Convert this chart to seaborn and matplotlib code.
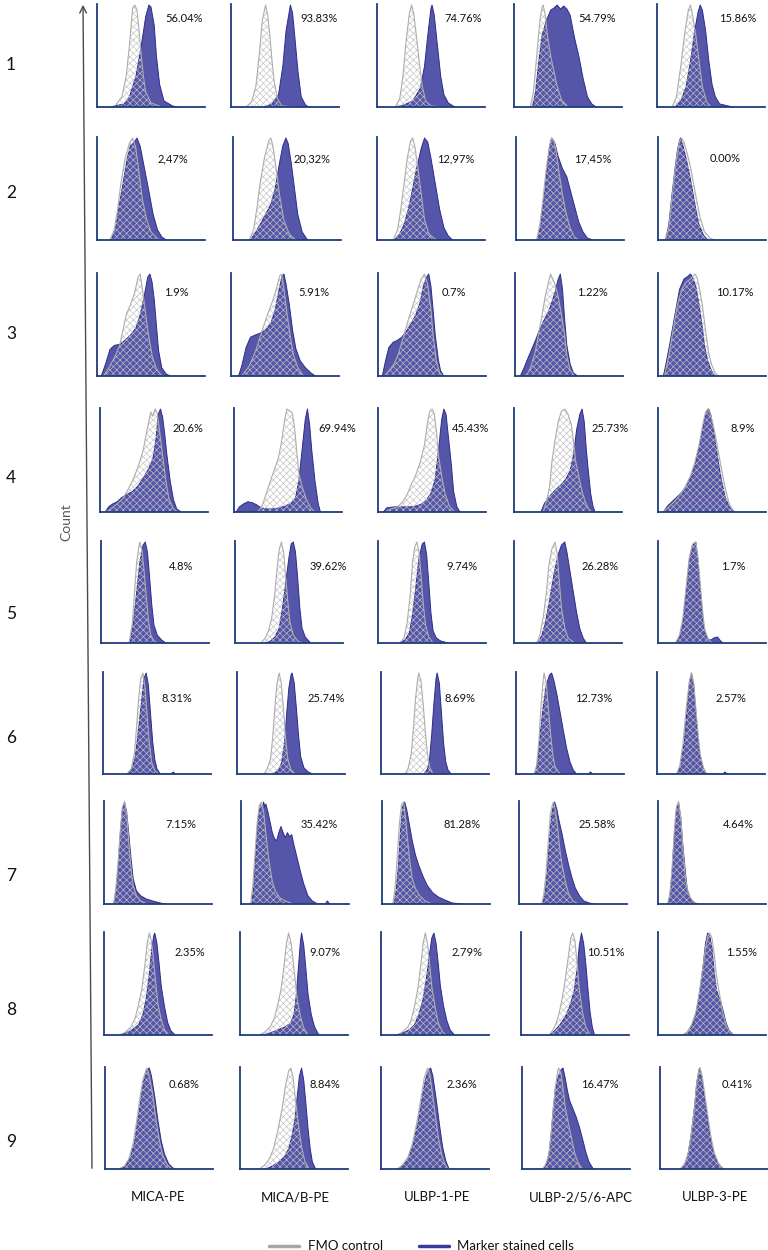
import matplotlib
matplotlib.use("Agg")
import matplotlib.pyplot as plt
import seaborn as sns
from matplotlib.lines import Line2D
from matplotlib.patches import FancyArrowPatch

# ---------------- data ----------------
MARKERS = ["MICA-PE", "MICA/B-PE", "ULBP-1-PE", "ULBP-2/5/6-APC", "ULBP-3-PE"]
SAMPLES = ["1", "2", "3", "4", "5", "6", "7", "8", "9"]
PERCENTS = [
    ["56.04%", "93.83%", "74.76%", "54.79%", "15.86%"],
    ["2,47%", "20,32%", "12,97%", "17,45%", "0.00%"],
    ["1.9%", "5.91%", "0.7%", "1.22%", "10.17%"],
    ["20.6%", "69.94%", "45.43%", "25.73%", "8.9%"],
    ["4.8%", "39.62%", "9.74%", "26.28%", "1.7%"],
    ["8.31%", "25.74%", "8.69%", "12.73%", "2.57%"],
    ["7.15%", "35.42%", "81.28%", "25.58%", "4.64%"],
    ["2.35%", "9.07%", "2.79%", "10.51%", "1.55%"],
    ["0.68%", "8.84%", "2.36%", "16.47%", "0.41%"],
]
LEGEND = ["FMO control", "Marker stained cells"]
AXIS_LABEL = "Count"

# histogram outlines: (relative intensity, relative count)
FMO_1 = [
    [(0.16,0),(0.23,0.1),(0.27,0.3),(0.30,0.6),(0.32,0.85),(0.33,0.97),(0.35,1.0),(0.37,0.95),(0.39,0.75),(0.41,0.5),(0.43,0.3),(0.45,0.15),(0.50,0.04),(0.60,0)],
    [(0.14,0),(0.19,0.05),(0.23,0.2),(0.26,0.5),(0.29,0.85),(0.32,1.0),(0.34,0.9),(0.36,0.7),(0.38,0.45),(0.40,0.25),(0.43,0.08),(0.47,0.01),(0.60,0)],
    [(0.17,0),(0.21,0.08),(0.24,0.3),(0.27,0.65),(0.30,0.92),(0.32,1.0),(0.34,0.92),(0.37,0.65),(0.39,0.45),(0.42,0.2),(0.45,0.06),(0.50,0.01),(0.60,0)],
    [(0.15,0),(0.18,0.15),(0.21,0.5),(0.24,0.85),(0.26,0.98),(0.27,1.0),(0.29,0.9),(0.31,0.7),(0.34,0.5),(0.37,0.35),(0.40,0.2),(0.44,0.07),(0.50,0)],
    [(0.14,0),(0.18,0.1),(0.22,0.4),(0.26,0.75),(0.29,0.95),(0.31,1.0),(0.33,0.9),(0.36,0.7),(0.39,0.45),(0.42,0.2),(0.46,0.05),(0.50,0)],
]
STAIN_1 = [
    [(0.12,0),(0.25,0.03),(0.30,0.1),(0.36,0.3),(0.41,0.6),(0.45,0.88),(0.48,1.0),(0.50,0.98),(0.53,0.8),(0.55,0.5),(0.58,0.22),(0.62,0.06),(0.70,0.01),(0.75,0)],
    [(0.30,0),(0.38,0.03),(0.44,0.12),(0.48,0.4),(0.51,0.75),(0.55,1.0),(0.57,0.92),(0.59,0.7),(0.62,0.35),(0.65,0.1),(0.69,0.02),(0.72,0)],
    [(0.17,0),(0.25,0.02),(0.33,0.06),(0.40,0.18),(0.44,0.4),(0.47,0.7),(0.50,0.97),(0.51,1.0),(0.53,0.9),(0.56,0.6),(0.59,0.3),(0.62,0.12),(0.66,0.04),(0.72,0)],
    [(0.17,0),(0.20,0.15),(0.23,0.45),(0.26,0.7),(0.30,0.85),(0.34,0.95),(0.37,0.97),(0.40,1.0),(0.43,0.96),(0.46,0.99),(0.49,0.96),(0.52,0.9),(0.56,0.68),(0.60,0.5),(0.64,0.28),(0.68,0.1),(0.72,0.03),(0.76,0)],
    [(0.17,0),(0.22,0.06),(0.27,0.2),(0.31,0.45),(0.35,0.75),(0.38,0.93),(0.40,1.0),(0.42,0.95),(0.45,0.75),(0.48,0.45),(0.51,0.22),(0.54,0.1),(0.58,0.03),(0.66,0.01),(0.70,0)],
]
FMO_2 = [
    [(0.12,0),(0.16,0.1),(0.19,0.3),(0.22,0.55),(0.26,0.8),(0.30,0.95),(0.33,1.0),(0.36,0.9),(0.39,0.65),(0.42,0.4),(0.46,0.2),(0.50,0.08),(0.56,0.01),(0.60,0)],
    [(0.15,0),(0.19,0.1),(0.22,0.3),(0.25,0.55),(0.29,0.8),(0.33,0.97),(0.35,1.0),(0.37,0.92),(0.40,0.7),(0.43,0.45),(0.47,0.2),(0.52,0.06),(0.58,0)],
    [(0.15,0),(0.19,0.1),(0.22,0.3),(0.25,0.55),(0.28,0.8),(0.31,0.97),(0.33,1.0),(0.35,0.92),(0.38,0.7),(0.41,0.45),(0.44,0.2),(0.48,0.06),(0.55,0)],
    [(0.19,0),(0.22,0.15),(0.25,0.4),(0.28,0.7),(0.31,0.92),(0.33,1.0),(0.35,0.98),(0.37,0.88),(0.40,0.65),(0.43,0.45),(0.46,0.28),(0.50,0.12),(0.54,0.03),(0.58,0)],
    [(0.07,0),(0.10,0.12),(0.13,0.42),(0.16,0.7),(0.18,0.86),(0.20,0.97),(0.22,1.0),(0.24,0.96),(0.27,0.85),(0.30,0.72),(0.33,0.55),(0.36,0.38),(0.39,0.22),(0.43,0.08),(0.48,0.02),(0.52,0)],
]
STAIN_2 = [
    [(0.13,0),(0.17,0.1),(0.20,0.3),(0.24,0.55),(0.28,0.8),(0.31,0.93),(0.34,0.95),(0.37,1.0),(0.40,0.92),(0.44,0.7),(0.48,0.48),(0.52,0.25),(0.56,0.1),(0.60,0.03),(0.64,0)],
    [(0.16,0),(0.20,0.06),(0.25,0.15),(0.30,0.25),(0.35,0.35),(0.39,0.5),(0.43,0.75),(0.46,0.92),(0.49,1.0),(0.51,0.95),(0.54,0.75),(0.57,0.5),(0.60,0.25),(0.64,0.08),(0.69,0)],
    [(0.16,0),(0.21,0.06),(0.25,0.15),(0.29,0.3),(0.33,0.5),(0.37,0.72),(0.41,0.9),(0.44,1.0),(0.47,0.96),(0.50,0.8),(0.54,0.55),(0.58,0.3),(0.62,0.12),(0.66,0.04),(0.70,0)],
    [(0.20,0),(0.23,0.15),(0.26,0.42),(0.29,0.72),(0.31,0.92),(0.33,1.0),(0.36,0.95),(0.39,0.82),(0.43,0.7),(0.47,0.62),(0.50,0.5),(0.54,0.34),(0.58,0.18),(0.62,0.08),(0.66,0.02),(0.71,0)],
    [(0.07,0),(0.10,0.15),(0.13,0.45),(0.16,0.72),(0.18,0.88),(0.20,0.98),(0.21,1.0),(0.23,0.93),(0.26,0.8),(0.29,0.65),(0.32,0.48),(0.35,0.3),(0.38,0.15),(0.42,0.05),(0.46,0)],
]
FMO_3 = [
    [(0.06,0),(0.11,0.08),(0.17,0.2),(0.21,0.3),(0.24,0.45),(0.27,0.6),(0.31,0.7),(0.35,0.82),(0.38,0.97),(0.40,1.0),(0.43,0.78),(0.47,0.45),(0.51,0.2),(0.55,0.07),(0.60,0)],
    [(0.10,0),(0.17,0.1),(0.23,0.25),(0.28,0.42),(0.33,0.58),(0.38,0.72),(0.42,0.85),(0.45,0.98),(0.47,1.0),(0.49,0.85),(0.52,0.6),(0.55,0.38),(0.58,0.2),(0.62,0.08),(0.67,0)],
    [(0.06,0),(0.10,0.05),(0.15,0.12),(0.19,0.22),(0.24,0.4),(0.28,0.55),(0.32,0.68),(0.36,0.82),(0.40,0.95),(0.43,1.0),(0.46,0.9),(0.49,0.65),(0.51,0.4),(0.54,0.15),(0.57,0.03),(0.60,0)],
    [(0.09,0),(0.12,0.03),(0.15,0.1),(0.19,0.25),(0.22,0.42),(0.25,0.6),(0.28,0.78),(0.31,0.92),(0.33,1.0),(0.35,0.95),(0.37,0.9),(0.40,0.78),(0.43,0.6),(0.46,0.4),(0.48,0.2),(0.51,0.06),(0.55,0)],
    [(0.06,0),(0.10,0.2),(0.14,0.45),(0.18,0.7),(0.22,0.85),(0.26,0.92),(0.30,0.95),(0.34,1.0),(0.36,0.97),(0.38,0.88),(0.41,0.7),(0.44,0.45),(0.47,0.22),(0.50,0.1),(0.53,0.03),(0.56,0)],
]
STAIN_3 = [
    [(0.04,0),(0.08,0.12),(0.12,0.26),(0.16,0.3),(0.21,0.31),(0.26,0.35),(0.31,0.4),(0.36,0.47),(0.40,0.6),(0.44,0.8),(0.47,0.97),(0.49,1.0),(0.51,0.92),(0.53,0.75),(0.55,0.5),(0.57,0.25),(0.60,0.08),(0.64,0.02),(0.68,0)],
    [(0.07,0),(0.10,0.1),(0.14,0.28),(0.18,0.38),(0.22,0.4),(0.27,0.42),(0.32,0.45),(0.37,0.52),(0.41,0.65),(0.44,0.82),(0.47,0.97),(0.49,1.0),(0.51,0.9),(0.54,0.7),(0.57,0.45),(0.60,0.27),(0.64,0.15),(0.69,0.08),(0.74,0.03),(0.78,0)],
    [(0.04,0),(0.07,0.15),(0.10,0.28),(0.14,0.33),(0.18,0.35),(0.22,0.38),(0.27,0.45),(0.31,0.52),(0.35,0.6),(0.39,0.72),(0.42,0.88),(0.45,0.97),(0.47,1.0),(0.49,0.88),(0.51,0.65),(0.53,0.4),(0.56,0.15),(0.58,0.05),(0.61,0)],
    [(0.05,0),(0.08,0.07),(0.11,0.15),(0.15,0.25),(0.19,0.35),(0.23,0.46),(0.27,0.55),(0.31,0.63),(0.34,0.72),(0.37,0.82),(0.40,0.95),(0.42,1.0),(0.44,0.85),(0.46,0.55),(0.48,0.3),(0.51,0.12),(0.54,0.03),(0.58,0)],
    [(0.05,0),(0.08,0.15),(0.11,0.32),(0.14,0.5),(0.17,0.68),(0.20,0.85),(0.24,0.95),(0.28,0.98),(0.30,1.0),(0.32,0.97),(0.35,0.88),(0.38,0.7),(0.41,0.48),(0.43,0.3),(0.46,0.15),(0.49,0.06),(0.53,0)],
]
FMO_4 = [
    [(0.06,0),(0.10,0.03),(0.16,0.08),(0.21,0.13),(0.25,0.2),(0.30,0.3),(0.35,0.43),(0.40,0.6),(0.44,0.82),(0.47,0.97),(0.49,0.93),(0.51,1.0),(0.53,0.96),(0.55,0.8),(0.58,0.55),(0.61,0.3),(0.64,0.12),(0.68,0.03),(0.72,0)],
    [(0.22,0),(0.26,0.06),(0.29,0.15),(0.33,0.28),(0.37,0.4),(0.41,0.52),(0.44,0.68),(0.47,0.9),(0.49,1.0),(0.52,0.98),(0.54,0.96),(0.56,0.82),(0.58,0.6),(0.60,0.38),(0.63,0.25),(0.67,0.12),(0.71,0.04),(0.75,0)],
    [(0.06,0),(0.12,0.03),(0.18,0.05),(0.23,0.1),(0.27,0.17),(0.31,0.27),(0.35,0.36),(0.39,0.48),(0.43,0.65),(0.46,0.88),(0.48,0.98),(0.50,1.0),(0.52,0.96),(0.54,0.8),(0.56,0.55),(0.59,0.35),(0.62,0.18),(0.66,0.06),(0.71,0)],
    [(0.27,0),(0.30,0.1),(0.33,0.25),(0.35,0.48),(0.38,0.7),(0.41,0.88),(0.44,0.98),(0.47,1.0),(0.50,0.95),(0.53,0.85),(0.55,0.7),(0.57,0.5),(0.60,0.35),(0.63,0.2),(0.66,0.1),(0.69,0.03),(0.72,0)],
    [(0.05,0),(0.10,0.05),(0.15,0.1),(0.20,0.16),(0.25,0.24),(0.30,0.35),(0.34,0.48),(0.38,0.65),(0.42,0.88),(0.44,0.97),(0.46,1.0),(0.48,0.97),(0.51,0.85),(0.54,0.7),(0.57,0.52),(0.60,0.35),(0.63,0.2),(0.66,0.08),(0.70,0)],
]
STAIN_4 = [
    [(0.05,0),(0.08,0.05),(0.12,0.08),(0.16,0.1),(0.20,0.14),(0.25,0.17),(0.30,0.2),(0.35,0.25),(0.40,0.33),(0.45,0.42),(0.49,0.52),(0.52,0.72),(0.54,0.95),(0.56,1.0),(0.58,0.92),(0.60,0.75),(0.62,0.55),(0.65,0.3),(0.68,0.12),(0.71,0.03),(0.75,0)],
    [(0.02,0),(0.05,0.05),(0.09,0.08),(0.13,0.1),(0.17,0.09),(0.21,0.07),(0.25,0.04),(0.30,0.03),(0.36,0.03),(0.42,0.04),(0.48,0.06),(0.53,0.09),(0.57,0.14),(0.60,0.3),(0.63,0.6),(0.66,0.9),(0.68,1.0),(0.70,0.85),(0.72,0.6),(0.75,0.3),(0.78,0.08),(0.80,0)],
    [(0.05,0),(0.08,0.04),(0.15,0.05),(0.22,0.05),(0.30,0.05),(0.36,0.06),(0.41,0.08),(0.45,0.12),(0.49,0.18),(0.53,0.32),(0.56,0.6),(0.59,0.9),(0.61,1.0),(0.63,0.95),(0.65,0.75),(0.68,0.45),(0.70,0.2),(0.73,0.05),(0.76,0)],
    [(0.25,0),(0.28,0.08),(0.32,0.14),(0.36,0.19),(0.40,0.23),(0.44,0.27),(0.48,0.32),(0.52,0.4),(0.55,0.55),(0.58,0.8),(0.61,0.95),(0.63,1.0),(0.65,0.88),(0.67,0.6),(0.69,0.38),(0.71,0.18),(0.73,0.06),(0.75,0)],
    [(0.05,0),(0.09,0.06),(0.13,0.1),(0.17,0.14),(0.21,0.18),(0.26,0.25),(0.30,0.33),(0.34,0.45),(0.38,0.62),(0.42,0.85),(0.45,0.97),(0.47,1.0),(0.49,0.94),(0.52,0.75),(0.55,0.55),(0.58,0.35),(0.62,0.15),(0.66,0.05),(0.71,0)],
]
FMO_5 = [
    [(0.26,0),(0.29,0.2),(0.31,0.5),(0.33,0.8),(0.35,0.95),(0.36,1.0),(0.38,0.92),(0.40,0.7),(0.42,0.45),(0.44,0.22),(0.46,0.08),(0.49,0.02),(0.52,0)],
    [(0.24,0),(0.28,0.05),(0.31,0.12),(0.34,0.25),(0.37,0.5),(0.39,0.75),(0.41,0.93),(0.43,1.0),(0.45,0.9),(0.47,0.65),(0.49,0.4),(0.51,0.2),(0.54,0.08),(0.58,0.02),(0.62,0)],
    [(0.20,0),(0.24,0.05),(0.27,0.2),(0.30,0.5),(0.32,0.8),(0.34,0.95),(0.36,1.0),(0.38,0.9),(0.40,0.65),(0.42,0.38),(0.44,0.18),(0.47,0.06),(0.51,0)],
    [(0.21,0),(0.24,0.08),(0.27,0.25),(0.30,0.5),(0.32,0.75),(0.35,0.93),(0.38,1.0),(0.40,0.88),(0.42,0.6),(0.44,0.35),(0.47,0.15),(0.50,0.05),(0.56,0)],
    [(0.16,0),(0.20,0.08),(0.23,0.25),(0.26,0.55),(0.29,0.85),(0.32,0.98),(0.35,1.0),(0.37,0.85),(0.39,0.6),(0.41,0.35),(0.43,0.15),(0.46,0.05),(0.50,0)],
]
STAIN_5 = [
    [(0.27,0),(0.30,0.2),(0.33,0.5),(0.36,0.8),(0.39,0.97),(0.41,1.0),(0.43,0.9),(0.45,0.65),(0.47,0.38),(0.49,0.18),(0.52,0.08),(0.56,0.03),(0.60,0)],
    [(0.28,0),(0.33,0.02),(0.37,0.06),(0.41,0.15),(0.44,0.35),(0.47,0.6),(0.50,0.85),(0.52,0.98),(0.54,1.0),(0.56,0.9),(0.58,0.65),(0.60,0.35),(0.62,0.15),(0.65,0.06),(0.70,0)],
    [(0.20,0),(0.25,0.03),(0.29,0.1),(0.32,0.28),(0.35,0.55),(0.38,0.85),(0.41,0.98),(0.43,1.0),(0.45,0.88),(0.47,0.6),(0.49,0.3),(0.51,0.12),(0.54,0.05),(0.58,0.02),(0.65,0)],
    [(0.22,0),(0.26,0.08),(0.29,0.2),(0.33,0.42),(0.37,0.68),(0.41,0.88),(0.44,0.97),(0.47,1.0),(0.49,0.9),(0.52,0.7),(0.55,0.5),(0.58,0.3),(0.61,0.14),(0.64,0.05),(0.67,0)],
    [(0.17,0),(0.20,0.06),(0.23,0.2),(0.26,0.5),(0.29,0.82),(0.32,0.97),(0.35,1.0),(0.37,0.82),(0.39,0.55),(0.41,0.3),(0.43,0.12),(0.46,0.04),(0.49,0.03),(0.52,0.05),(0.55,0.06),(0.58,0.02),(0.60,0)],
]
FMO_6 = [
    [(0.22,0),(0.26,0.05),(0.29,0.2),(0.31,0.45),(0.33,0.75),(0.35,0.95),(0.37,1.0),(0.39,0.85),(0.41,0.55),(0.43,0.3),(0.45,0.12),(0.48,0.03),(0.52,0)],
    [(0.25,0),(0.28,0.05),(0.31,0.15),(0.33,0.35),(0.35,0.65),(0.37,0.9),(0.39,1.0),(0.41,0.9),(0.43,0.65),(0.45,0.35),(0.47,0.15),(0.50,0.04),(0.54,0)],
    [(0.22,0),(0.25,0.05),(0.28,0.2),(0.30,0.45),(0.32,0.75),(0.34,0.95),(0.35,1.0),(0.37,0.92),(0.39,0.7),(0.41,0.42),(0.43,0.2),(0.45,0.07),(0.48,0)],
    [(0.17,0),(0.19,0.08),(0.21,0.3),(0.23,0.65),(0.25,0.92),(0.26,1.0),(0.28,0.9),(0.30,0.65),(0.32,0.4),(0.34,0.2),(0.36,0.08),(0.39,0.02),(0.42,0)],
    [(0.18,0),(0.21,0.08),(0.24,0.3),(0.27,0.65),(0.30,0.92),(0.32,1.0),(0.34,0.9),(0.36,0.65),(0.38,0.4),(0.40,0.2),(0.43,0.06),(0.46,0)],
]
STAIN_6 = [
    [(0.23,0),(0.27,0.05),(0.30,0.18),(0.33,0.45),(0.36,0.75),(0.38,0.95),(0.40,1.0),(0.42,0.88),(0.44,0.6),(0.46,0.32),(0.48,0.14),(0.50,0.05),(0.53,0),(0.63,0),(0.65,0.02),(0.67,0)],
    [(0.33,0),(0.38,0.03),(0.41,0.1),(0.44,0.3),(0.46,0.6),(0.48,0.85),(0.50,0.98),(0.51,1.0),(0.53,0.9),(0.55,0.65),(0.57,0.38),(0.59,0.17),(0.62,0.06),(0.66,0.02),(0.70,0)],
    [(0.40,0),(0.43,0.05),(0.45,0.15),(0.47,0.4),(0.49,0.7),(0.51,0.95),(0.52,1.0),(0.54,0.9),(0.56,0.6),(0.58,0.3),(0.60,0.12),(0.62,0.04),(0.65,0)],
    [(0.17,0),(0.20,0.1),(0.22,0.35),(0.25,0.65),(0.28,0.88),(0.31,0.98),(0.33,1.0),(0.35,0.93),(0.38,0.78),(0.41,0.6),(0.44,0.42),(0.47,0.25),(0.50,0.12),(0.53,0.04),(0.56,0),(0.67,0),(0.69,0.02),(0.71,0)],
    [(0.19,0),(0.22,0.08),(0.25,0.3),(0.28,0.65),(0.30,0.9),(0.32,1.0),(0.34,0.88),(0.36,0.6),(0.38,0.35),(0.40,0.16),(0.43,0.05),(0.46,0),(0.61,0),(0.63,0.02),(0.65,0)],
]
FMO_7 = [
    [(0.09,0),(0.11,0.15),(0.13,0.4),(0.15,0.7),(0.17,0.95),(0.19,1.0),(0.21,0.88),(0.23,0.6),(0.25,0.35),(0.27,0.18),(0.30,0.08),(0.34,0.03),(0.40,0)],
    [(0.09,0),(0.11,0.2),(0.13,0.5),(0.15,0.8),(0.17,0.97),(0.19,1.0),(0.21,0.9),(0.23,0.7),(0.25,0.5),(0.27,0.35),(0.29,0.22),(0.32,0.12),(0.36,0.06),(0.41,0.03),(0.48,0)],
    [(0.10,0),(0.12,0.15),(0.14,0.45),(0.16,0.78),(0.18,0.97),(0.20,1.0),(0.22,0.82),(0.24,0.6),(0.26,0.4),(0.28,0.25),(0.31,0.15),(0.35,0.08),(0.40,0.03),(0.46,0)],
    [(0.21,0),(0.23,0.1),(0.25,0.3),(0.27,0.6),(0.29,0.88),(0.31,0.98),(0.32,1.0),(0.34,0.9),(0.36,0.72),(0.38,0.52),(0.40,0.38),(0.43,0.22),(0.46,0.1),(0.50,0.03),(0.55,0)],
    [(0.09,0),(0.11,0.1),(0.13,0.35),(0.15,0.7),(0.17,0.95),(0.19,1.0),(0.21,0.85),(0.23,0.55),(0.25,0.3),(0.27,0.15),(0.30,0.06),(0.34,0.01),(0.38,0)],
]
STAIN_7 = [
    [(0.09,0),(0.11,0.12),(0.13,0.35),(0.15,0.68),(0.17,0.93),(0.19,1.0),(0.21,0.9),(0.23,0.68),(0.25,0.45),(0.27,0.25),(0.30,0.13),(0.34,0.08),(0.39,0.05),(0.45,0.03),(0.52,0.01),(0.58,0)],
    [(0.10,0),(0.12,0.2),(0.14,0.55),(0.16,0.85),(0.18,0.97),(0.19,0.93),(0.21,1.0),(0.22,0.95),(0.23,0.98),(0.25,0.9),(0.27,0.8),(0.29,0.7),(0.31,0.64),(0.33,0.62),(0.35,0.7),(0.37,0.76),(0.39,0.7),(0.41,0.65),(0.43,0.7),(0.45,0.66),(0.47,0.68),(0.49,0.58),(0.52,0.45),(0.55,0.32),(0.58,0.2),(0.62,0.08),(0.66,0.03),(0.71,0),(0.78,0),(0.80,0.03),(0.82,0)],
    [(0.11,0),(0.13,0.12),(0.15,0.35),(0.17,0.7),(0.19,0.95),(0.21,1.0),(0.23,0.92),(0.25,0.8),(0.28,0.62),(0.31,0.48),(0.34,0.38),(0.38,0.27),(0.42,0.18),(0.47,0.11),(0.52,0.07),(0.58,0.04),(0.65,0.01),(0.75,0)],
    [(0.22,0),(0.24,0.1),(0.26,0.3),(0.28,0.6),(0.30,0.85),(0.32,0.98),(0.33,1.0),(0.35,0.93),(0.37,0.82),(0.40,0.68),(0.43,0.52),(0.46,0.38),(0.49,0.26),(0.52,0.16),(0.56,0.08),(0.60,0.03),(0.65,0.01),(0.70,0)],
    [(0.09,0),(0.11,0.08),(0.13,0.3),(0.15,0.65),(0.17,0.92),(0.19,1.0),(0.21,0.85),(0.23,0.58),(0.25,0.35),(0.27,0.15),(0.30,0.05),(0.34,0.01),(0.38,0)],
]
FMO_8 = [
    [(0.15,0),(0.20,0.03),(0.25,0.08),(0.29,0.17),(0.32,0.3),(0.35,0.45),(0.38,0.7),(0.40,0.9),(0.42,1.0),(0.44,0.92),(0.46,0.72),(0.48,0.5),(0.50,0.3),(0.53,0.15),(0.56,0.05),(0.60,0)],
    [(0.18,0),(0.23,0.03),(0.28,0.08),(0.32,0.17),(0.35,0.3),(0.38,0.45),(0.41,0.7),(0.43,0.9),(0.45,1.0),(0.47,0.92),(0.49,0.75),(0.51,0.55),(0.53,0.35),(0.56,0.18),(0.59,0.07),(0.63,0)],
    [(0.15,0),(0.20,0.03),(0.25,0.08),(0.28,0.15),(0.31,0.28),(0.34,0.45),(0.37,0.7),(0.39,0.9),(0.41,1.0),(0.43,0.9),(0.45,0.7),(0.47,0.48),(0.50,0.28),(0.53,0.12),(0.57,0.03),(0.60,0)],
    [(0.26,0),(0.29,0.04),(0.32,0.1),(0.35,0.2),(0.38,0.35),(0.41,0.55),(0.44,0.78),(0.46,0.95),(0.48,1.0),(0.50,0.92),(0.52,0.7),(0.54,0.45),(0.57,0.22),(0.60,0.08),(0.64,0)],
    [(0.23,0),(0.27,0.03),(0.31,0.1),(0.35,0.22),(0.38,0.4),(0.41,0.62),(0.44,0.85),(0.46,0.97),(0.48,1.0),(0.50,0.95),(0.52,0.8),(0.54,0.6),(0.57,0.4),(0.60,0.22),(0.63,0.1),(0.66,0.03),(0.70,0)],
]
STAIN_8 = [
    [(0.14,0),(0.20,0.02),(0.26,0.05),(0.32,0.1),(0.36,0.2),(0.39,0.35),(0.42,0.6),(0.44,0.82),(0.46,0.97),(0.47,1.0),(0.49,0.9),(0.51,0.7),(0.53,0.48),(0.56,0.28),(0.59,0.12),(0.62,0.04),(0.66,0)],
    [(0.20,0),(0.28,0.02),(0.35,0.05),(0.42,0.08),(0.47,0.12),(0.50,0.2),(0.52,0.38),(0.54,0.65),(0.56,0.92),(0.57,1.0),(0.59,0.88),(0.61,0.65),(0.63,0.4),(0.66,0.2),(0.69,0.08),(0.73,0)],
    [(0.14,0),(0.20,0.02),(0.26,0.05),(0.31,0.1),(0.35,0.2),(0.39,0.35),(0.42,0.55),(0.45,0.8),(0.47,0.95),(0.49,1.0),(0.51,0.9),(0.53,0.7),(0.55,0.48),(0.58,0.28),(0.61,0.14),(0.64,0.05),(0.68,0)],
    [(0.27,0),(0.31,0.04),(0.36,0.1),(0.41,0.18),(0.45,0.28),(0.49,0.42),(0.52,0.65),(0.54,0.88),(0.56,1.0),(0.58,0.9),(0.60,0.7),(0.62,0.45),(0.64,0.22),(0.66,0.08),(0.68,0)],
    [(0.23,0),(0.28,0.03),(0.32,0.1),(0.36,0.25),(0.39,0.45),(0.42,0.7),(0.44,0.9),(0.46,1.0),(0.48,0.97),(0.50,0.85),(0.52,0.62),(0.54,0.45),(0.56,0.38),(0.58,0.33),(0.60,0.25),(0.63,0.12),(0.66,0.04),(0.70,0)],
]
FMO_9 = [
    [(0.13,0),(0.18,0.03),(0.22,0.1),(0.26,0.25),(0.29,0.45),(0.32,0.68),(0.35,0.88),(0.38,0.98),(0.39,1.0),(0.41,0.92),(0.44,0.75),(0.47,0.5),(0.50,0.3),(0.53,0.15),(0.57,0.05),(0.62,0)],
    [(0.18,0),(0.23,0.04),(0.27,0.1),(0.31,0.2),(0.35,0.38),(0.39,0.6),(0.42,0.82),(0.45,0.97),(0.47,1.0),(0.49,0.92),(0.51,0.72),(0.54,0.45),(0.57,0.22),(0.60,0.08),(0.64,0)],
    [(0.15,0),(0.20,0.04),(0.25,0.12),(0.29,0.25),(0.33,0.45),(0.37,0.7),(0.40,0.9),(0.43,1.0),(0.45,0.95),(0.47,0.8),(0.50,0.55),(0.53,0.32),(0.56,0.15),(0.59,0.05),(0.62,0)],
    [(0.19,0),(0.22,0.05),(0.25,0.15),(0.27,0.35),(0.29,0.6),(0.31,0.82),(0.33,0.97),(0.34,1.0),(0.36,0.95),(0.38,0.8),(0.40,0.62),(0.43,0.45),(0.46,0.3),(0.49,0.15),(0.52,0.06),(0.56,0)],
    [(0.19,0),(0.23,0.05),(0.26,0.15),(0.29,0.35),(0.32,0.62),(0.34,0.85),(0.36,0.98),(0.37,1.0),(0.39,0.92),(0.41,0.78),(0.44,0.55),(0.47,0.33),(0.50,0.17),(0.54,0.06),(0.58,0.01),(0.60,0)],
]
STAIN_9 = [
    [(0.14,0),(0.19,0.03),(0.23,0.1),(0.27,0.25),(0.30,0.45),(0.33,0.68),(0.36,0.88),(0.39,0.98),(0.41,1.0),(0.43,0.92),(0.46,0.72),(0.49,0.48),(0.52,0.28),(0.55,0.15),(0.59,0.05),(0.64,0)],
    [(0.24,0),(0.30,0.03),(0.36,0.07),(0.41,0.12),(0.45,0.2),(0.48,0.32),(0.51,0.5),(0.53,0.72),(0.55,0.92),(0.57,1.0),(0.59,0.88),(0.61,0.65),(0.63,0.4),(0.65,0.2),(0.67,0.07),(0.70,0)],
    [(0.16,0),(0.21,0.04),(0.26,0.12),(0.30,0.25),(0.34,0.45),(0.38,0.7),(0.41,0.88),(0.44,0.98),(0.46,1.0),(0.48,0.92),(0.51,0.7),(0.54,0.45),(0.57,0.22),(0.60,0.08),(0.63,0)],
    [(0.20,0),(0.23,0.05),(0.25,0.15),(0.27,0.35),(0.29,0.6),(0.31,0.8),(0.34,0.93),(0.36,0.98),(0.38,1.0),(0.40,0.9),(0.42,0.78),(0.44,0.68),(0.47,0.6),(0.50,0.52),(0.53,0.42),(0.56,0.3),(0.59,0.17),(0.62,0.07),(0.66,0)],
    [(0.19,0),(0.23,0.05),(0.26,0.15),(0.29,0.35),(0.32,0.62),(0.34,0.85),(0.36,0.98),(0.37,1.0),(0.39,0.9),(0.41,0.72),(0.44,0.5),(0.47,0.3),(0.50,0.15),(0.54,0.05),(0.58,0)],
]
FMO = [FMO_1, FMO_2, FMO_3, FMO_4, FMO_5, FMO_6, FMO_7, FMO_8, FMO_9]
STAIN = [STAIN_1, STAIN_2, STAIN_3, STAIN_4, STAIN_5, STAIN_6, STAIN_7, STAIN_8, STAIN_9]

# ---------------- layout (pixels) ----------------
W, H = 768, 1250
ROW_SPAN = [(4, 107), (137, 240), (273, 376), (408, 512), (541, 643),
            (672, 774), (801, 904), (932, 1035), (1067, 1169)]
PANEL_LEFT = [
    [97, 231, 377, 514, 657], [97, 233, 377, 516, 658], [97, 231, 378, 515, 658],
    [100, 234, 378, 514, 658], [101, 235, 378, 514, 658], [103, 237, 381, 516, 657],
    [104, 241, 382, 519, 658], [104, 240, 381, 521, 658], [105, 240, 381, 522, 660],
]
PANEL_W = 108
LABEL_X = [
    [184, 319, 463, 597, 738], [173, 312, 456, 593, 725], [176, 314, 454, 592, 735],
    [188, 337, 470, 610, 743], [181, 328, 462, 600, 733], [177, 326, 460, 594, 731],
    [181, 319, 462, 597, 738], [190, 325, 467, 606, 742], [184, 325, 462, 600, 737],
]
LABEL_Y = [19, 159, 293, 428, 567, 698, 825, 953, 1085]
ROW_LABEL_Y = [65, 193, 334, 478, 614, 738, 876, 1010, 1142]
COL_LABEL_X = [158, 295, 437, 581, 715]

BLUE = "#5555aa"
BLUE_EDGE = "#2c2c8c"
HATCH = "#c2c2c2"
FMO_LINE = "#adadad"
SPINE = "#1f3c7c"

sns.set_theme(style="white")
plt.rcParams["font.family"] = ["Lato", "DejaVu Sans"]
plt.rcParams["hatch.linewidth"] = 0.45
plt.rcParams["hatch.color"] = HATCH

fig = plt.figure(figsize=(W / 100, H / 100), dpi=100)
fig.patch.set_facecolor("white")


def fx(px):
    return px / W


def fy(py):
    return 1 - py / H


for r in range(len(SAMPLES)):
    top, bot = ROW_SPAN[r]
    for c in range(len(MARKERS)):
        left = PANEL_LEFT[r][c]
        ax = fig.add_axes([fx(left), fy(bot), PANEL_W / W, (bot - top) / H])
        ax.set_facecolor("none")
        sx = [p[0] for p in STAIN[r][c]]
        sy = [p[1] for p in STAIN[r][c]]
        gx = [p[0] for p in FMO[r][c]]
        gy = [p[1] for p in FMO[r][c]]
        ax.fill_between(sx, sy, 0, facecolor=BLUE, edgecolor="none", linewidth=0, zorder=1)
        sns.lineplot(x=sx, y=sy, ax=ax, color=BLUE_EDGE, linewidth=0.7,
                     sort=False, estimator=None, zorder=2)
        ax.fill_between(gx, gy, 0, facecolor="none", edgecolor=HATCH, hatch="xxxxx",
                        linewidth=0, zorder=3)
        sns.lineplot(x=gx, y=gy, ax=ax, color=FMO_LINE, linewidth=0.8,
                     sort=False, estimator=None, zorder=4)
        ax.set_xlim(0, 1)
        ax.set_ylim(0, 1.01)
        ax.set_xticks([])
        ax.set_yticks([])
        ax.set_xlabel("")
        ax.set_ylabel("")
        for side in ["top", "right"]:
            ax.spines[side].set_visible(False)
        for side in ["left", "bottom"]:
            ax.spines[side].set_color(SPINE)
            ax.spines[side].set_linewidth(1.3)
            ax.spines[side].set_zorder(6)
        fig.text(fx(LABEL_X[r][c]), fy(LABEL_Y[r]), PERCENTS[r][c],
                 ha="center", va="center", fontsize=8, color="#111111")
    fig.text(fx(11), fy(ROW_LABEL_Y[r]), SAMPLES[r], ha="center", va="center",
             fontsize=12.5, color="#111111")

for c, name in enumerate(MARKERS):
    fig.text(fx(COL_LABEL_X[c]), fy(1197), name, ha="center", va="center",
             fontsize=9.5, color="#111111")

# Count axis arrow
arrow = FancyArrowPatch((fx(92), fy(1171)), (fx(83), fy(2)), transform=fig.transFigure,
                        arrowstyle="->", mutation_scale=12, color="#4a4a4a", linewidth=1.0)
fig.add_artist(arrow)
fig.text(fx(66), fy(522), AXIS_LABEL, rotation=90, ha="center", va="center",
         fontsize=10, color="#595959")

# legend
fig.add_artist(Line2D([fx(269), fx(299)], [fy(1246), fy(1246)], color="#a6a6a6",
                      linewidth=2.5, transform=fig.transFigure))
fig.text(fx(308), fy(1246), LEGEND[0], ha="left", va="center", fontsize=9.5, color="#111111")
fig.add_artist(Line2D([fx(419), fx(449)], [fy(1246), fy(1246)], color="#3a3a9e",
                      linewidth=2.5, transform=fig.transFigure))
fig.text(fx(457), fy(1246), LEGEND[1], ha="left", va="center", fontsize=9.5, color="#111111")

fig.savefig("out.png", dpi=100, facecolor="white")
